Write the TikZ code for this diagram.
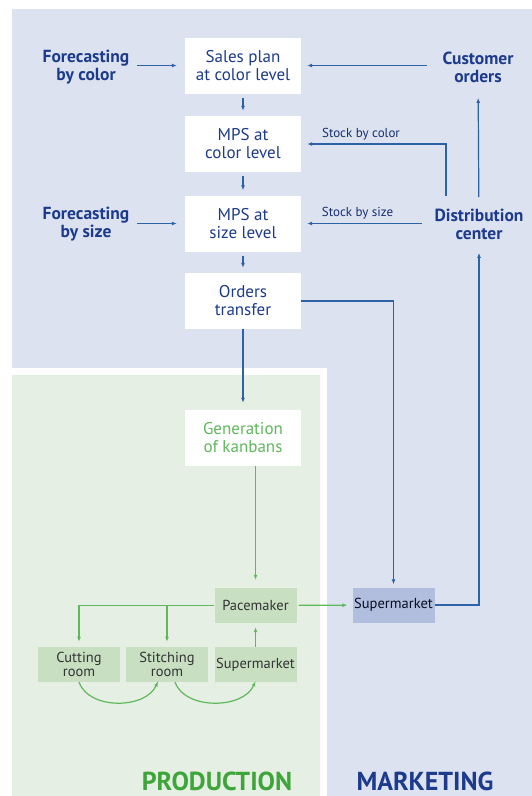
\documentclass[tikz,border=0pt]{standalone}
\usepackage{fontspec}
\setmainfont{PT Sans}
\usetikzlibrary{positioning, arrows.meta}

\definecolor{navy}{HTML}{1C3B8C}
\definecolor{flowblue}{HTML}{2D62A6}
\definecolor{mktbg}{HTML}{DCE2F0}
\definecolor{prodbg}{HTML}{E6EFE3}
\definecolor{prodgreen}{HTML}{5FB85C}
\definecolor{titlegreen}{HTML}{3DA53A}
\definecolor{cellgreen}{HTML}{C8DFC2}
\definecolor{cellblue}{HTML}{B2BEDD}

\begin{document}
\begin{tikzpicture}[x=1pt, y=-1pt,
  plan/.style={fill=white, minimum width=116pt, minimum height=56pt, inner sep=2pt,
    align=center, text=navy, font=\fontsize{17}{18}\selectfont},
  lbl/.style={align=center, text=navy, font=\bfseries\fontsize{17.5}{18}\selectfont},
  stocklbl/.style={text=navy!80!black, font=\fontsize{13}{14}\selectfont},
  cell/.style={fill=cellgreen, minimum width=82pt, minimum height=35pt, inner sep=1pt,
    align=center, text=black!80, font=\fontsize{14.5}{14}\selectfont},
  title/.style={anchor=base, inner sep=0pt, font=\bfseries\fontsize{26}{26}\selectfont},
  flow/.style={flowblue, line width=1.2pt, -{Latex[length=5pt, width=4pt]}},
  gflow/.style={prodgreen, line width=1.2pt, -{Latex[length=5pt, width=4pt]}}]

  % page and the two areas
  \useasboundingbox (0,0) rectangle (532,796);
  \fill[white] (0,0) rectangle (532,796);
  \fill[mktbg] (12,9) rectangle (532,796);
  \fill[white] (12,368) rectangle (327,796);
  \fill[prodbg] (12,375) rectangle (320,796);

  % planning chain
  \node[plan] (sales) at (243,65.5) {Sales plan\\at color level};
  \node[plan] (mpscolor) at (243,144) {MPS at\\color level};
  \node[plan] (mpssize) at (243,223.5) {MPS at\\size level};
  \node[plan] (orders) at (243,301) {Orders\\transfer};
  \node[plan, text=prodgreen] (kanbans) at (243,438) {Generation\\of kanbans};

  % inputs on the sides
  \node[lbl] (fcolor) at (86,67) {Forecasting\\by color};
  \node[lbl] (fsize) at (86,224.5) {Forecasting\\by size};
  \node[lbl] (customer) at (478,67) {Customer\\orders};
  \node[lbl] (dist) at (479,224) {Distribution\\center};
  \node[stocklbl] (stockcolor) at (361,134) {Stock by color};
  \node[stocklbl] (stocksize) at (357.5,213) {Stock by size};
  \coordinate (stockfork) at (446,196);

  % shop floor
  \node[cell] (pace) at (255.5,605.5) {Pacemaker};
  \node[cell] (cutting) at (79,664.5) {Cutting\\room};
  \node[cell] (stitching) at (167,664.5) {Stitching\\room};
  \node[cell] (prodmkt) at (255.5,664.5) {Supermarket};
  \node[cell, fill=cellblue, text=black!75!navy] (mktmkt) at (393.5,605) {Supermarket};

  % area titles
  \node[title, text=titlegreen] (prodtitle) at (217,790) {PRODUCTION};
  \node[title, text=navy] (mkttitle) at (425,790) {MARKETING};

  % blue flows
  \draw[flow, shorten <=4pt, shorten >=8pt] (fcolor.east |- sales) -- (sales);
  \draw[flow, shorten <=4pt, shorten >=8pt] (fsize.east |- mpssize) -- (mpssize);
  \draw[flow, shorten <=12pt, shorten >=6pt] (customer.west |- sales) -- (sales);
  \draw[flow, shorten <=4pt, shorten >=5pt] (sales) -- (mpscolor);
  \draw[flow, shorten <=4pt, shorten >=5pt] (mpscolor) -- (mpssize);
  \draw[flow, shorten <=4pt, shorten >=5pt] (mpssize) -- (orders);
  \draw[flow, shorten >=6pt] (stockfork) |- (mpscolor);
  \draw[flow, shorten <=9pt, shorten >=6pt] (dist.west |- mpssize) -- (mpssize);
  \draw[flow, shorten <=8pt, shorten >=12pt] (dist) -- (customer);
  \draw[flow, shorten >=7pt] (orders) -- (kanbans);
  \draw[flow, shorten >=3pt] (orders.east) -| (mktmkt.north);
  \draw[flow, shorten >=10pt] (mktmkt.east) -| (dist.south);

  % green flows
  \draw[gflow, shorten >=8pt] (kanbans.south -| pace) -- (pace);
  \draw[gflow, shorten <=2pt, shorten >=5pt] (pace) -- (mktmkt);
  \draw[gflow, shorten >=5pt] (pace.west) -| (cutting.north);
  \draw[gflow, shorten >=5pt] (pace.west -| stitching) -- (stitching.north);
  \draw[gflow, shorten >=4pt] (prodmkt) -- (pace);
  \draw[gflow] (cutting.south) .. controls +(10,28) and +(-12,28) .. ([xshift=-9pt, yshift=1pt]stitching.south);
  \draw[gflow] ([xshift=8pt]stitching.south) .. controls +(10,28) and +(-12,28) .. ([yshift=1pt]prodmkt.south);
\end{tikzpicture}
\end{document}
